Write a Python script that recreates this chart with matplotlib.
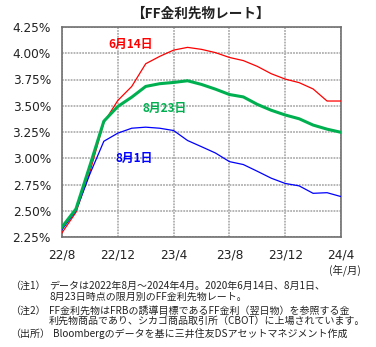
import matplotlib
matplotlib.use("Agg")
import matplotlib.pyplot as plt
import pandas as pd

JP = ['Noto Sans CJK JP', 'DejaVu Sans']
NUM = ['DejaVu Sans', 'Noto Sans CJK JP']

months = pd.date_range("2022-08-01", "2024-04-01", freq="MS")

rate_0614 = [2.29, 2.485, 2.87, 3.34, 3.55, 3.684, 3.90, 3.97, 4.03, 4.056,
             4.037, 4.006, 3.96, 3.93, 3.875, 3.805, 3.754, 3.72, 3.66, 3.545, 3.545]
rate_0823 = [2.345, 2.517, 2.93, 3.353, 3.493, 3.582, 3.684, 3.71, 3.722, 3.738,
             3.703, 3.658, 3.607, 3.584, 3.513, 3.457, 3.412, 3.376, 3.316, 3.277, 3.247]
rate_0801 = [2.32, 2.50, 2.85, 3.162, 3.239, 3.286, 3.296, 3.286, 3.264, 3.169,
             3.11, 3.05, 2.968, 2.94, 2.876, 2.81, 2.76, 2.737, 2.666, 2.672, 2.635]

series_labels = ["6月14日", "8月23日", "8月1日"]
xtick_labels = ["22/8", "22/12", "23/4", "23/8", "23/12", "24/4"]
yticks = [2.25, 2.50, 2.75, 3.00, 3.25, 3.50, 3.75, 4.00, 4.25]

notes = [
    ("（注1）", "データは2022年8月～2024年4月。2020年6月14日、8月1日、"),
    ("", "8月23日時点の限月別のFF金利先物レート。"),
    ("（注2）", "FF金利先物はFRBの誘導目標であるFF金利（翌日物）を参照する金"),
    ("", "利先物商品であり、シカゴ商品取引所（CBOT）に上場されています。"),
    ("（出所）", "Bloombergのデータを基に三井住友DSアセットマネジメント作成"),
]
note_rows = [286, 297, 311, 322, 334]
note_body_x = [49, 49, 49, 49, 53]

fig = plt.figure(figsize=(3.76, 3.47), dpi=100)
ax = fig.add_axes([62 / 376, 1 - 237 / 347, 279 / 376, 210 / 347])

x = list(range(len(months)))
ax.plot(x, rate_0614, color="#ff0000", lw=0.9, zorder=3)
ax.plot(x, rate_0823, color="#00b050", lw=2.2, zorder=4)
ax.plot(x, rate_0801, color="#0000ff", lw=0.9, zorder=3)

ax.set_xlim(0, len(months) - 1)
ax.set_ylim(2.25, 4.25)
ax.set_xticks(range(0, len(months), 4))
ax.set_xticklabels(xtick_labels, family=NUM, fontsize=8.7, color="#222222")
ax.set_yticks(yticks)
ax.set_yticklabels(["%.2f%%" % v for v in yticks], family=NUM, fontsize=8.7, color="#222222")
ax.tick_params(length=0, pad=8)
ax.tick_params(axis="x", pad=8)
ax.grid(True, color="#b0b0b0", lw=1.3, ls=(0, (1, 0.6)))
for s in ax.spines.values():
    s.set_color("#707070")
    s.set_linewidth(1.2)

ax.text(3.3, 4.05, series_labels[0], color="#ff0000", fontsize=8.5,
        fontweight="bold", family=JP)
ax.text(5.8, 3.44, series_labels[1], color="#00b050", fontsize=8.5,
        fontweight="bold", family=JP)
ax.text(3.8, 2.96, series_labels[2], color="#0000ff", fontsize=8.5,
        fontweight="bold", family=JP)

fig.text(200 / 376, 1 - 14 / 347, "【FF金利先物レート】", ha="center", va="center",
         fontsize=9.8, fontweight="bold", family=JP, color="#222222")
fig.text(361 / 376, 1 - 270 / 347, "(年/月)", ha="right", va="center",
         fontsize=7.5, family=JP, color="#222222")

for (head, body), row, bx in zip(notes, note_rows, note_body_x):
    yy = 1 - row / 347
    if head:
        fig.text(10 / 376, yy, head, ha="left", va="center", fontsize=7.2,
                 family=JP, color="#222222")
    fig.text(bx / 376, yy, body, ha="left", va="center", fontsize=7.2,
             family=JP, color="#222222")

fig.savefig("out.png", dpi=100)
